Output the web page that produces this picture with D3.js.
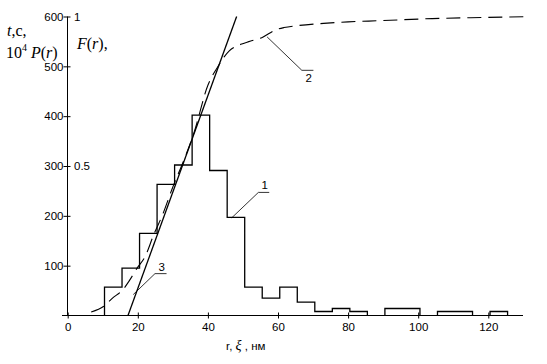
<!DOCTYPE html>
<html>
<head>
<meta charset="utf-8">
<script src="https://cdn.jsdelivr.net/npm/d3@7"></script>
<style>
  body { margin: 0; background: #fff; }
  svg { display: block; }
  .tick text { font-family: "Liberation Sans", Arial, sans-serif; font-size: 11.5px; fill: #000; }
  .lbl { font-family: "Liberation Serif", "Times New Roman", serif; font-size: 16px; fill: #000; }
  .num { font-family: "Liberation Sans", Arial, sans-serif; font-size: 11.5px; fill: #000; }
</style>
</head>
<body>
<svg id="chart" width="547" height="364"></svg>
<script>
// histogram of 10^4 P(r): left edges, right edges, heights
const binStart = [10.5, 15.5, 20.5, 25.5, 30.5, 35.5, 40.5, 45.5, 50.5, 55.5, 60.5, 65.5, 70.5, 75.5, 80.5, 90.5, 105.5, 120.5];
const binEnd   = [15.5, 20.5, 25.5, 30.5, 35.5, 40.5, 45.5, 50.5, 55.5, 60.5, 65.5, 70.5, 75.5, 80.5, 85.5, 100.5, 115.5, 125.5];
const binValue = [57, 95, 165, 263, 302, 402, 291, 197, 57, 35, 57, 27, 8, 14, 8, 14, 8, 8];

// curve 2: F(r) (right axis, 0..1)
const cdfR = [6.7, 10.3, 12.7, 16, 17.5, 19.9, 22, 24.6, 27, 30, 33, 36, 40, 43, 44.7, 46.1, 49.4, 52, 55.5, 59.3, 61.7, 66, 73, 80, 89, 104, 115, 130];
const cdfF = [0.012, 0.031, 0.057, 0.09, 0.115, 0.16, 0.195, 0.272, 0.335, 0.43, 0.515, 0.61, 0.77, 0.835, 0.866, 0.885, 0.907, 0.917, 0.93, 0.955, 0.963, 0.97, 0.977, 0.982, 0.986, 0.993, 0.996, 0.999];

// line 3: tangent
const tanR = [17.2, 48.2];
const tanV = [0, 600];

const xTicks = [0, 20, 40, 60, 80, 100, 120];
const yTicks = [100, 200, 300, 400, 500, 600];
const fTicks = [0.5, 1];
const fTickText = ['0.5', '1'];

// leader lines for the curve numbers: [r0, v0, r1, v1, r2]
const callouts = [
  { name: '1', pts: [46.8, 196, 54.4, 247, 57.5], above: true },
  { name: '2', pts: [56.9, 559, 66.8, 492, 70.1], above: false },
  { name: '3', pts: [18.7, 42, 24.9, 84, 28.2], above: true }
];

const svg = d3.select('#chart');
const x = d3.scaleLinear().domain([0, 120]).range([67.7, 488.3]);
const y = d3.scaleLinear().domain([0, 600]).range([315.5, 16.5]);
const yF = d3.scaleLinear().domain([0, 1]).range([315.5, 16.5]);

// x axis
const gx = svg.append('g').attr('transform', 'translate(0,315.5)')
  .call(d3.axisBottom(x).tickValues(xTicks).tickSize(3).tickPadding(4).tickSizeOuter(0));
gx.select('.domain').remove();
gx.selectAll('.tick line').attr('y1', -3).attr('y2', 3).attr('stroke', '#000');
gx.append('line').attr('x1', 62).attr('x2', 523).attr('stroke', '#000');
gx.selectAll('.tick text').attr('dy', '0.72em');

// left y axis
const gy = svg.append('g').attr('transform', 'translate(67.5,0)')
  .call(d3.axisLeft(y).tickValues(yTicks).tickSize(4).tickPadding(0).tickSizeOuter(0));
gy.select('.domain').remove();
gy.selectAll('.tick line').attr('x1', -4).attr('x2', 3).attr('stroke', '#000');
gy.append('line').attr('y1', y(600)).attr('y2', y(0)).attr('stroke', '#000');

// right-hand numbers for F(r)
svg.append('g').selectAll('text').data(fTicks).join('text')
  .attr('class', 'num')
  .attr('x', 74).attr('y', d => yF(d)).attr('dy', '0.36em')
  .text((d, i) => fTickText[i]);

// histogram (curve 1) as a step outline, dropping to the axis between gaps
const histPath = d3.path();
binStart.forEach((s, i) => {
  const prevEnd = i > 0 ? binEnd[i - 1] : null;
  if (prevEnd !== s) {
    if (i > 0) histPath.lineTo(x(binEnd[i - 1]), y(0));
    histPath.moveTo(x(s), y(0));
  }
  histPath.lineTo(x(s), y(binValue[i]));
  histPath.lineTo(x(binEnd[i]), y(binValue[i]));
});
histPath.lineTo(x(binEnd[binEnd.length - 1]), y(0));
svg.append('path').attr('d', histPath.toString())
  .attr('fill', 'none').attr('stroke', '#000').attr('stroke-width', 1.3);

// tangent line 3
svg.append('path')
  .attr('d', d3.line()(tanR.map((r, i) => [x(r), y(tanV[i])])))
  .attr('stroke', '#000').attr('stroke-width', 1.3).attr('fill', 'none');

// dashed curve 2
svg.append('path')
  .attr('d', d3.line().curve(d3.curveMonotoneX)(cdfR.map((r, i) => [x(r), yF(cdfF[i])])))
  .attr('fill', 'none').attr('stroke', '#000').attr('stroke-width', 1.1)
  .attr('stroke-dasharray', '14,7');

// callouts
callouts.forEach(c => {
  const [r0, v0, r1, v1, r2] = c.pts;
  svg.append('path')
    .attr('d', d3.line()([[x(r0), y(v0)], [x(r1), y(v1)], [x(r2), y(v1)]]))
    .attr('fill', 'none').attr('stroke', '#000').attr('stroke-width', 0.8);
  svg.append('text').attr('class', 'num')
    .attr('x', (x(r1) + x(r2)) / 2 + 1)
    .attr('y', c.above ? y(v1) - 3 : y(v1) + 12)
    .attr('text-anchor', 'middle')
    .text(c.name);
});

// axis titles
const t1 = svg.append('text').attr('class', 'lbl').attr('x', 7).attr('y', 36);
t1.append('tspan').attr('font-style', 'italic').text('t');
t1.append('tspan').text(',c,');

const t2 = svg.append('text').attr('class', 'lbl').attr('x', 6).attr('y', 58);
t2.append('tspan').text('10');
t2.append('tspan').attr('font-size', '10px').attr('dy', -7).text('4');
t2.append('tspan').attr('dy', 7).attr('font-style', 'italic').text(' P');
t2.append('tspan').text('(');
t2.append('tspan').attr('font-style', 'italic').text('r');
t2.append('tspan').text(')');

const t3 = svg.append('text').attr('class', 'lbl').attr('x', 77).attr('y', 49);
t3.append('tspan').attr('font-style', 'italic').text('F');
t3.append('tspan').text('(');
t3.append('tspan').attr('font-style', 'italic').text('r');
t3.append('tspan').text('),');

const t4 = svg.append('text').attr('class', 'num').attr('x', 226).attr('y', 350);
t4.append('tspan').text('r,  ');
t4.append('tspan').attr('font-family', '"Liberation Serif", serif').attr('font-style', 'italic')
  .attr('font-size', '14px').text('ξ');
t4.append('tspan').text(' , нм');
</script>
</body>
</html>
